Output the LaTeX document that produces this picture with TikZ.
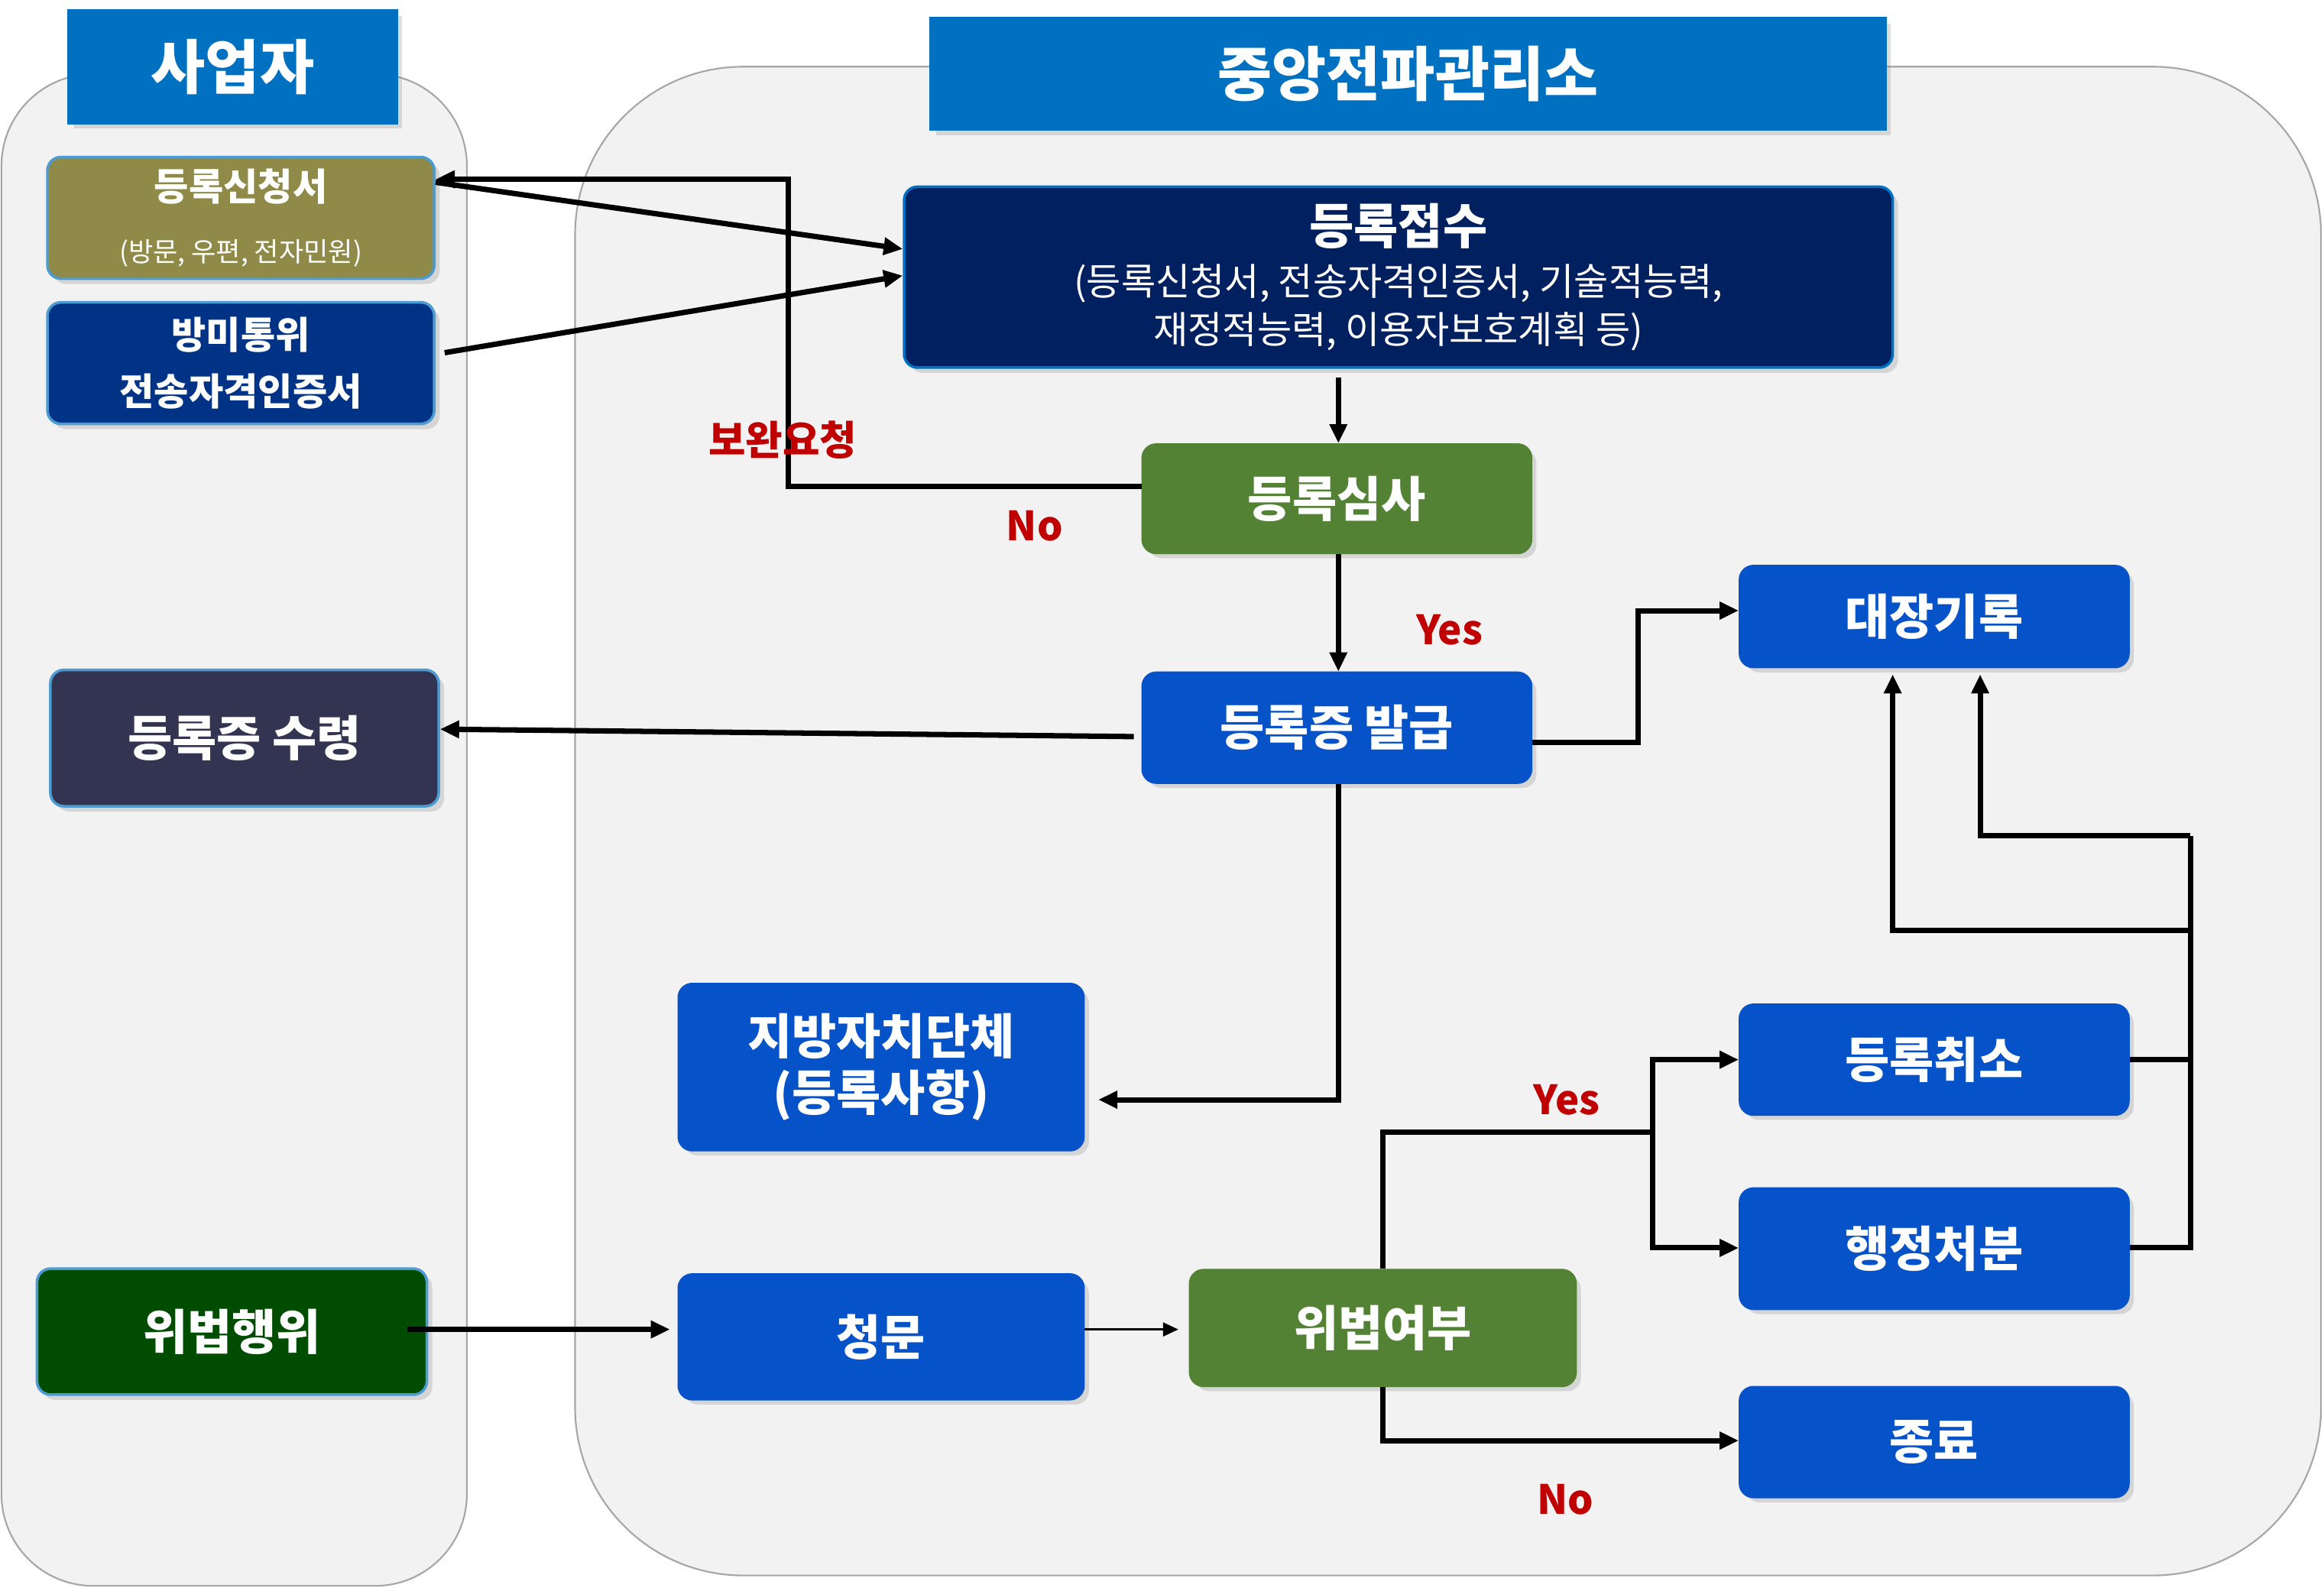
\documentclass[tikz,border=0pt]{standalone}
\usepackage{fontspec}
\setmainfont{Noto Sans CJK KR}
\usetikzlibrary{arrows.meta,shadows}
\definecolor{tblue}{HTML}{0070C0}
\definecolor{bblue}{HTML}{0652C8}
\definecolor{navy}{HTML}{002060}
\definecolor{gr}{HTML}{548235}
\definecolor{dred}{HTML}{C00000}
\newcommand\bx[8]{\node[box,fill=#6,draw=#7,minimum width={(#4-#2)*0.01939cm},minimum height={(#5-#3)*0.01939cm}] (#1) at ({(#2+#4)/2},{(#3+#5)/2}) {#8};}
\tikzset{
 box/.style={rounded corners=5pt,line width=1pt,text=white,font=\bfseries\fontsize{18}{21}\selectfont,align=center,inner sep=0pt,drop shadow={opacity=0.25,shadow xshift=2pt,shadow yshift=-2pt}},
 ln/.style={line width=2pt},
 ar/.style={line width=2pt,-{Triangle[length=0.25cm,width=0.22cm]}},
 lab/.style={text=dred,font=\bfseries\fontsize{15}{18}\selectfont},
 panel/.style={fill=black!5,draw=black!35,line width=0.6pt}
}
\begin{document}
\begin{tikzpicture}[x=0.01939cm,y=-0.01939cm]
\useasboundingbox (0,0) rectangle (1568,1071);
\draw[panel,rounded corners=1.2cm] (1,50) rectangle (315,1070);
\draw[panel,rounded corners=2.2cm] (388,45) rectangle (1566,1063);
\node[box,rounded corners=0pt,fill=tblue,draw=tblue,minimum width={221*0.01939cm},minimum height={76*0.01939cm},font=\bfseries\fontsize{22}{26}\selectfont] (t1) at (157,45) {사업자};
\node[box,rounded corners=0pt,fill=tblue,draw=tblue,minimum width={644*0.01939cm},minimum height={75*0.01939cm},font=\bfseries\fontsize{22}{26}\selectfont] (t2) at (950,50) {중앙전파관리소};
\bx{a1}{32}{106}{293}{188}{yellow!50!black}{tblue!70}{{\fontsize{14}{17}\selectfont 등록신청서}\\[2pt]{\mdseries\fontsize{10}{12}\selectfont (방문, 우편, 전자민원)}}
\bx{a2}{32}{204}{293}{286}{blue!40!black!80!cyan}{tblue!70}{\fontsize{14}{17}\selectfont 방미통위\\\fontsize{14}{17}\selectfont 전송자격인증서}
\bx{a3}{34}{452}{296}{544}{black!80!blue!60!gray}{tblue!70}{등록증 수령}
\bx{a4}{25}{856}{288}{941}{green!30!black}{tblue!70}{위법행위}
\bx{b1}{610}{126}{1277}{248}{navy}{tblue}{등록접수\\[-2pt]{\mdseries\fontsize{14}{17}\selectfont (등록신청서, 전송자격인증서, 기술적능력,}\\[-3pt]{\mdseries\fontsize{14}{17}\selectfont 재정적능력, 이용자보호계획 등)}}
\bx{b2}{771}{300}{1033}{373}{gr}{gr}{등록심사}
\bx{b3}{771}{454}{1033}{528}{bblue}{bblue}{등록증 발급}
\bx{b4}{1174}{382}{1436}{450}{bblue}{bblue}{대장기록}
\bx{b5}{458}{664}{731}{776}{bblue}{bblue}{지방자치단체\\(등록사항)}
\bx{b6}{458}{860}{731}{944}{bblue}{bblue}{청문}
\bx{b7}{803}{857}{1063}{935}{gr}{gr}{위법여부}
\bx{b8}{1174}{678}{1436}{752}{bblue}{bblue}{등록취소}
\bx{b9}{1174}{802}{1436}{883}{bblue}{bblue}{행정처분}
\bx{b10}{1174}{936}{1436}{1010}{bblue}{bblue}{종료}
% connectors
\draw[ar] (a1.east|-0,123) -- (b1.west|-0,168);
\draw[ar] (300,238) -- (b1.west|-0,186);
\draw[ar] (b2.west|-0,328) -- (532,328) -- (532,121) -- (a1.east|-0,121);
\draw[ar] (b1.south-|903,0) ++(0,6) -- (b2.north-|903,0);
\draw[ar] (b2.south-|903,0) -- (b3.north-|903,0);
\draw[ar] (765,497) -- (a3.east|-0,492);
\draw[ar] (b3.east|-0,501) -- (1105,501) -- (1105,412) -- (b4.west|-0,412);
\draw[ar] (b3.south-|903,0) -- (903,742) -- (741,742);
\draw[ar] (275,897) -- (452,897);
\draw[line width=0.8pt,-{Triangle[length=0.2cm,width=0.18cm]}] (b6.east|-0,897) -- (795,897);
\draw[ln] (b7.north-|933,0) -- (933,764) -- (1115,764);
\draw[ar] (1115,764) -- (1115,715) -- (b8.west|-0,715);
\draw[ar] (1115,764) -- (1115,842) -- (b9.west|-0,842);
\draw[ar] (b7.south-|933,0) -- (933,972) -- (b10.west|-0,972);
\draw[ln] (b8.east|-0,715) -- (1478,715);
\draw[ln] (b9.east|-0,842) -- (1478,842) -- (1478,564);
\draw[ar] (1478,628) -- (1277,628) -- (1277,455);
\draw[ar] (1478,564) -- (1336,564) -- (1336,455);
% labels
\node[lab] (l1) at (528,297) {보완요청};
\node[lab] (l2) at (698,355) {No};
\node[lab] (l3) at (978,425) {Yes};
\node[lab] (l4) at (1057,742) {Yes};
\node[lab] (l5) at (1056,1012) {No};
\end{tikzpicture}
\end{document}
